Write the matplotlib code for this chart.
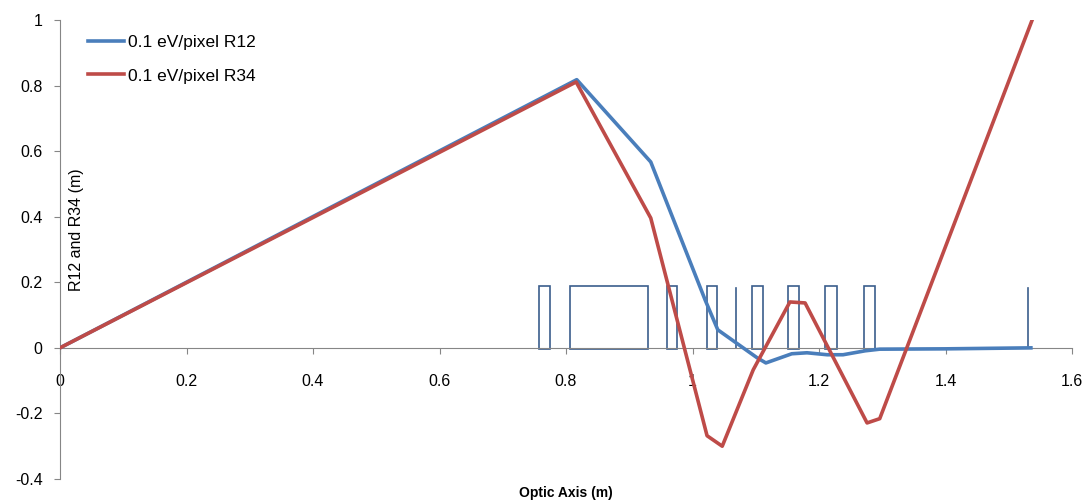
import matplotlib.pyplot as plt
from matplotlib.patches import Rectangle

plt.rcParams['font.family'] = ['Liberation Sans', 'DejaVu Sans']

# R12 ray trace
x_r12 = [0, 0.817, 0.934, 1.020, 1.040, 1.102, 1.116, 1.157, 1.181, 1.213, 1.238, 1.273, 1.296, 1.40, 1.535]
y_r12 = [0, 0.818, 0.567, 0.146, 0.055, -0.030, -0.046, -0.018, -0.015, -0.021, -0.021, -0.009, -0.004, -0.003, 0.0]

# R34 ray trace
x_r34 = [0, 0.816, 0.934, 1.023, 1.047, 1.096, 1.154, 1.178, 1.276, 1.296, 1.537]
y_r34 = [0, 0.811, 0.396, -0.268, -0.300, -0.067, 0.140, 0.137, -0.229, -0.216, 1.0]

# optical elements (start, end) drawn as boxes
elem_start = [0.757, 0.806, 0.960, 1.023, 1.094, 1.151, 1.210, 1.271]
elem_end = [0.775, 0.930, 0.975, 1.039, 1.111, 1.168, 1.228, 1.289]
elem_h = 0.19
# thin markers
marker_x = [0.0, 1.069, 1.530]
marker_h = 0.183

blue = '#4a7ebb'
red = '#be4b48'
dark = '#3b5e8c'
grey = '#868686'

fig = plt.figure(figsize=(10.87, 5.01), dpi=100)
ax = fig.add_axes([60/1087, 22/501, 1012/1087, 459/501])

for s, e in zip(elem_start, elem_end):
    ax.add_patch(Rectangle((s, -0.003), e - s, elem_h + 0.003, fill=False,
                           edgecolor=dark, lw=1.2, zorder=2))
for m in marker_x:
    ax.plot([m, m], [0, marker_h], color=dark, lw=1.2, zorder=2)

ax.plot(x_r12, y_r12, color=blue, lw=2.6, label='0.1 eV/pixel R12', zorder=3)
ax.plot(x_r34, y_r34, color=red, lw=2.6, label='0.1 eV/pixel R34', zorder=4)

ax.set_xlim(0, 1.6)
ax.set_ylim(-0.4, 1.0)
ax.set_xticks([0, 0.2, 0.4, 0.6, 0.8, 1.0, 1.2, 1.4, 1.6])
ax.set_xticklabels(['0', '0.2', '0.4', '0.6', '0.8', '1', '1.2', '1.4', '1.6'])
ax.set_yticks([-0.4, -0.2, 0, 0.2, 0.4, 0.6, 0.8, 1.0])
ax.set_yticklabels(['-0.4', '-0.2', '0', '0.2', '0.4', '0.6', '0.8', '1'])

for sp in ['top', 'right']:
    ax.spines[sp].set_visible(False)
ax.spines['bottom'].set_position(('data', 0))
ax.spines['left'].set_color(grey)
ax.spines['bottom'].set_color(grey)
ax.tick_params(axis='both', direction='out', length=4.5, color=grey, labelsize=11.5)
ax.tick_params(axis='x', pad=14)
ax.tick_params(axis='y', pad=8)

fig.text(77/1087, 1 - 230/501, 'R12 and R34 (m)', rotation=90, ha='center', va='center', fontsize=11.5)
fig.text(566/1087, 1 - 493/501, 'Optic Axis (m)', ha='center', va='center', fontsize=10, fontweight='bold')

ax.legend(loc='upper left', bbox_to_anchor=(88/1087, 1 - 35/501), bbox_transform=fig.transFigure,
          frameon=False, fontsize=12.5, handlelength=2.1, handletextpad=0.2,
          labelspacing=1.05, borderpad=0, borderaxespad=0)

fig.savefig('out.png', dpi=100)
